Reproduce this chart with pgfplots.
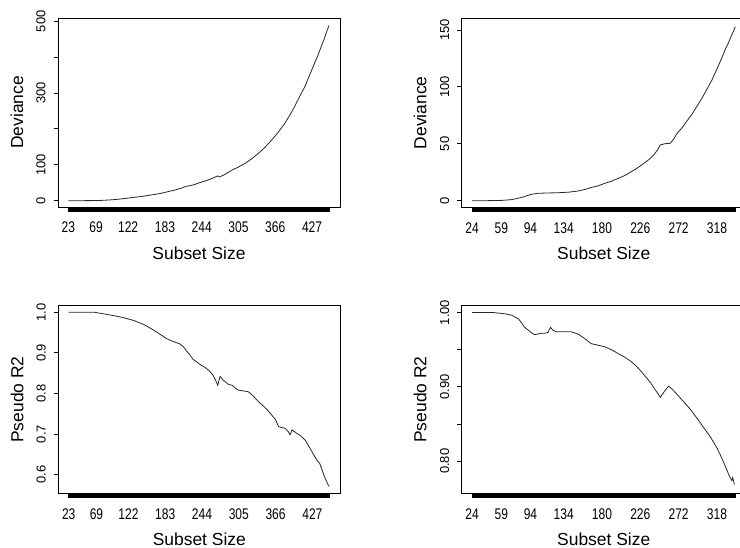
\documentclass[border=0pt]{standalone}
\usepackage{pgfplots}
\pgfplotsset{compat=1.18}
\usepackage{fontspec}
\setmainfont{Liberation Sans}
\newfontfamily\xtf[FakeStretch=0.78]{Liberation Sans}
\newfontfamily\ytf[FakeStretch=1.0]{Liberation Sans}

\pgfplotsset{
  rpanel/.style={
    scale only axis, width=282bp, height=188bp,
    axis line style={line width=0.9bp},
    tick align=outside, tick pos=left,
    major tick length=4.5bp, minor tick length=4.5bp,
    every tick/.style={black, line width=1bp},
    xticklabel style={font=\fontsize{15.5}{15.5}\xtf},
    xticklabel shift=7bp,
    yticklabel style={rotate=90, anchor=south, font=\fontsize{13}{13}\ytf},
    yticklabel shift=4.5bp,
    xlabel={Subset Size},
    every axis x label/.style={at={(axis description cs:0.5,-0.245)}, anchor=center, font=\fontsize{17.5}{17.5}\selectfont},
    every axis y label/.style={at={(axis description cs:-0.146,0.5)}, rotate=90, anchor=center, font=\fontsize{17.5}{17.5}\selectfont},
  },
  leftx/.style={xmin=5.7, xmax=473.3, minor xtick={23,24,...,456},
    xtick={23,69,122,183,244,305,366,427},
    xticklabels={23,69,122,183,244,305,366,427}},
  rightx/.style={xmin=11.4, xmax=352.6, width=284bp, minor xtick={24,25,...,340},
    xtick={24,59,94,134,180,226,272,318},
    xticklabels={24,59,94,134,180,226,272,318}},
  rline/.style={black!85, line width=0.8bp, no marks},
}

\begin{document}
\begin{tikzpicture}
% top left
\begin{axis}[rpanel, leftx, anchor=north west, at={(58bp,-18bp)}, height=189bp,
  ymin=-17.5, ymax=509, ytick={0,100,200,300,400,500}, yticklabels={0,100,,300,,500},
  ylabel={Deviance}]
\addplot[rline] coordinates {
(23,0) (40,0.1) (60,0.3) (76,0.8) (90,2) (105,4) (118,6.5) (130,9) (145,12) (160,16)
(175,20) (185,24) (200,30) (210,35) (218,40) (225,42) (232,45) (240,50) (250,55) (258,60)
(265,65) (270,69) (273,66) (280,71) (287,78) (294,85) (305,94) (316,104) (327,117) (338,132)
(349,149) (360,169) (371,191) (382,216) (390,238) (398,262) (406,289) (415,318) (423,350)
(431,383) (437,406) (442,429) (447,450) (451,470) (455,488)};
\end{axis}
% top right
\begin{axis}[rpanel, rightx, anchor=north west, at={(461.7bp,-18.3bp)}, height=189bp,
  ymin=-5.8, ymax=160.3, ytick={0,50,100,150}, yticklabels={0,50,100,150},
  ylabel={Deviance}]
\addplot[rline] coordinates {
(24,0) (40,0) (60,0.3) (72,1) (84,3) (95,5.6) (103,6.5) (115,6.8) (127,7) (140,7.5)
(151,8.5) (160,10) (167,11.6) (175,13) (183,15.2) (191,17) (199,19.5) (207,22) (215,25.4)
(223,29) (230,32.7) (236,36) (242,40) (247,45) (250,49) (255,50) (262,50.5) (266,54)
(270,59) (276,64) (282,70) (288,76) (294,83) (300,90) (306,98) (312,106) (318,115.7)
(323,124) (328,133) (332,139) (336,146) (338,149) (340,153)};
\end{axis}
% bottom left
\begin{axis}[rpanel, leftx, anchor=north west, at={(58.3bp,-305.7bp)}, height=187.6bp,
  ymin=0.554, ymax=1.016, ytick={0.6,0.7,0.8,0.9,1.0}, yticklabels={0.6,0.7,0.8,0.9,1.0},
  ylabel={Pseudo R2}]
\addplot[rline] coordinates {
(23,1.000) (65,1.000) (81,0.996) (92,0.993) (103,0.990) (115,0.986) (130,0.980) (140,0.974)
(147,0.970) (158,0.961) (169,0.951) (177,0.943) (185,0.935) (196,0.928) (207,0.922)
(213,0.915) (218,0.905) (224,0.895) (229,0.884) (235,0.878) (240,0.872) (248,0.865)
(256,0.856) (262,0.845) (267,0.831) (270,0.820) (274,0.842) (279,0.833) (283,0.828)
(288,0.822) (294,0.820) (300,0.812) (305,0.808) (313,0.806) (321,0.804) (330,0.792)
(338,0.779) (345,0.770) (352,0.760) (360,0.746) (366,0.735) (371,0.718) (376,0.716)
(382,0.714) (387,0.706) (390,0.698) (393,0.710) (400,0.703) (408,0.695) (415,0.685)
(423,0.665) (431,0.644) (435,0.635) (439,0.628) (443,0.612) (447,0.595) (450,0.585)
(453,0.575) (455,0.571)};
\end{axis}
% bottom right
\begin{axis}[rpanel, rightx, anchor=north west, at={(461.7bp,-305.7bp)}, height=187.6bp,
  ymin=0.757, ymax=1.009, ytick={0.80,0.85,0.90,0.95,1.00}, yticklabels={0.80,,0.90,,1.00},
  ylabel={Pseudo R2}]
\addplot[rline] coordinates {
(24,1.000) (48,1.000) (64,0.998) (72,0.996) (80,0.991) (87,0.980) (95,0.973) (99,0.970)
(103,0.971) (107,0.972) (111,0.972) (115,0.973) (118,0.980) (121,0.976) (125,0.974)
(135,0.974) (143,0.974) (151,0.971) (159,0.965) (167,0.958) (175,0.956) (183,0.954)
(191,0.950) (199,0.945) (207,0.940) (215,0.934) (221,0.928) (226,0.922) (232,0.914)
(238,0.906) (244,0.896) (250,0.886) (255,0.894) (260,0.901) (265,0.896) (270,0.890)
(278,0.880) (286,0.870) (294,0.858) (301,0.847) (310,0.833) (318,0.818) (324,0.804)
(329,0.791) (333,0.780) (336,0.774) (337,0.778) (339,0.769)};
\end{axis}
\pgfresetboundingbox
\path[use as bounding box] (0bp,0bp) rectangle (740bp,-548bp);
\end{tikzpicture}
\end{document}
